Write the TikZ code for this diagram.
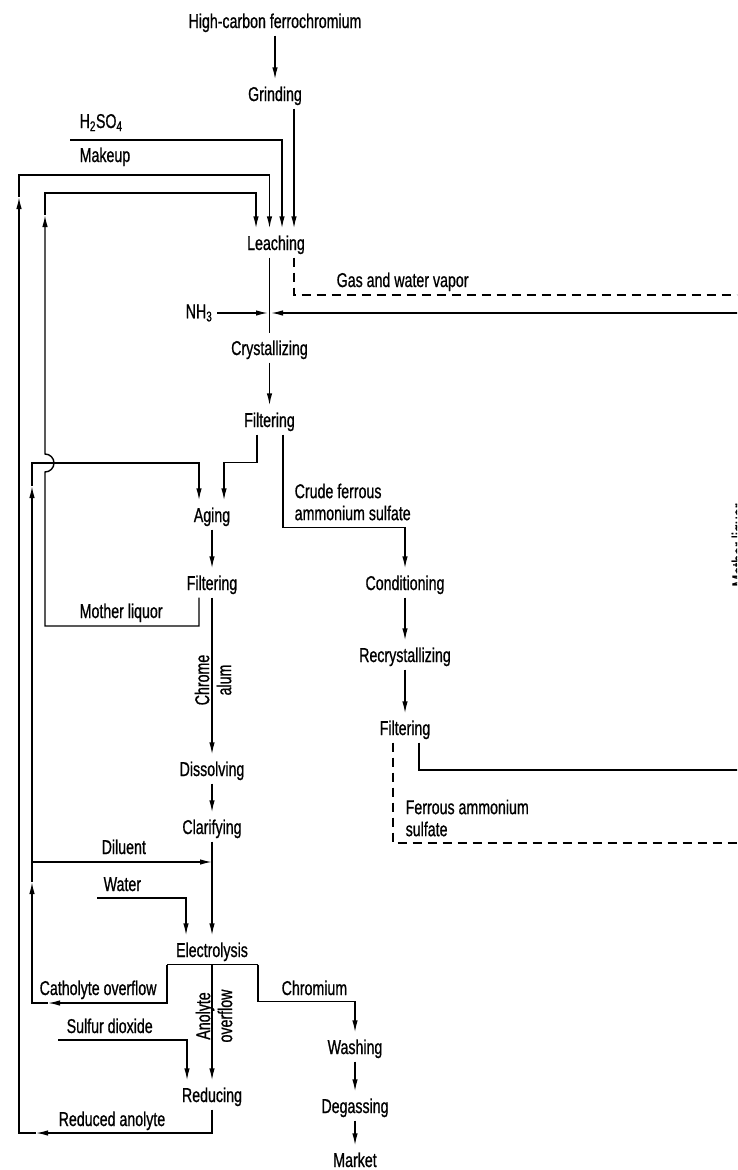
\documentclass[tikz,border=0pt]{standalone}
\usepackage{fontspec}
\setmainfont[FakeStretch=0.71, FakeBold=0.8]{Liberation Sans}
\usetikzlibrary{arrows.meta}

\begin{document}
\begin{tikzpicture}[
x=1pt, y=-1pt,
line width=1.4pt,
font=\fontsize{20}{22}\selectfont,
stage/.style={
    inner xsep=2pt,
    inner ysep=3pt,
    text height=18pt,
    text depth=4pt
},
lbl/.style={inner sep=0pt, align=left},
arrow/.style={-{Latex[length=12pt,width=5.5pt]}}
]
\useasboundingbox (0,0) rectangle (737,1170);
\clip (0,0) rectangle (737,1170);

% Process steps
\node[stage] (hc) at (275,21) {High-carbon ferrochromium};
\node[stage] (grind) at (275,94) {Grinding};
\node[stage] (leach) at (276,243) {Leaching};
\node[stage] (cryst) at (269.5,348) {Crystallizing};
\node[stage] (filt1) at (269.5,420) {Filtering};
\node[stage] (aging) at (212,515) {Aging};
\node[stage] (filt2) at (212,583) {Filtering};
\node[stage] (diss) at (212,769) {Dissolving};
\node[stage] (clar) at (212,827) {Clarifying};
\node[stage] (elec) at (212,950) {Electrolysis};
\node[stage] (redu) at (212,1095) {Reducing};
\node[stage] (wash) at (355,1047) {Washing};
\node[stage] (degas) at (355,1106) {Degassing};
\node[stage] (market) at (355,1160) {Market};
\node[stage] (cond) at (405,583) {Conditioning};
\node[stage] (recr) at (405,655) {Recrystallizing};
\node[stage] (filt3) at (405,728) {Filtering};

% Stream labels
\node[lbl, anchor=base west] (acidlbl) at (79,128) {H\textsubscript{2}SO\textsubscript{4}};
\node[lbl, anchor=base west] (makeuplbl) at (79,162) {Makeup};
\node[lbl, anchor=base west] (gaslbl) at (336,287) {Gas and water vapor};
\node[lbl, anchor=east] (nh3) at (213,313) {NH\textsubscript{3}};
\node[lbl, anchor=west] (crudelbl) at (294,502) {Crude ferrous\\ammonium sulfate};
\node[lbl, anchor=base west] (motherlbl) at (79,618) {Mother liquor};
\node[lbl, rotate=90, align=center] (alumlbl) at (213,680) {Chrome\\alum};
\node[lbl, anchor=west] (fasl) at (405,818) {Ferrous ammonium\\sulfate};
\node[lbl, rotate=90] (motherR) at (741,545) {Mother liquor};
\node[lbl, anchor=base west] (dillbl) at (101,854) {Diluent};
\node[lbl, anchor=base west] (watlbl) at (103,891) {Water};
\node[lbl, anchor=base west] (cathlbl) at (39,995) {Catholyte overflow};
\node[lbl, anchor=base west] (crlbl) at (281,995) {Chromium};
\node[lbl, rotate=90, align=center] (anolbl) at (214,1016) {Anolyte\\overflow};
\node[lbl, anchor=base west] (so2lbl) at (66,1033) {Sulfur dioxide};
\node[lbl, anchor=base west] (redlbl) at (58,1126) {Reduced anolyte};

% Free ends and corners
\coordinate (acid) at (70,140);
\coordinate (ra1) at (36,1133);
\coordinate (ra2) at (19,197);
\coordinate (ra3) at (19,175);
\coordinate (ml1) at (45,626);
\coordinate (ml2) at (45,472);
\coordinate (ml3) at (45,215);
\coordinate (ml4) at (45,193);
\coordinate (busL) at ([xshift=-45pt]elec.south);
\coordinate (busR) at ([xshift=46pt]elec.south);
\coordinate (ca1) at (48,1003);
\coordinate (ca2) at (32,882);
\coordinate (ca3) at (32,862);
\coordinate (ca4) at (32,486);
\coordinate (ca5) at (32,463);
\coordinate (dil) at (212,862);
\coordinate (wat) at (97,898);
\coordinate (so2) at (58,1040);
\coordinate (nhj) at (268,313);
\coordinate (nhR) at (271,313);
\coordinate (gasR) at (760,295);
\coordinate (mlR) at (760,770);
\coordinate (fasR) at (760,843);

% Leaching
\draw[arrow] (hc) -- (grind);
\draw[arrow] ([xshift=19pt]grind.south) -- ([xshift=18pt]leach.north);
\draw[arrow] (acid) -| ([xshift=6pt]leach.north);
\draw[arrow] (redu.south) |- (ra1);
\draw[arrow] (ra1) -| (ra2);
\draw[arrow] (ra2) -- (ra3) -| ([xshift=-6.5pt]leach.north);
\draw[arrow] ([xshift=-13pt]filt2.south) |- (ml1) -- (ml2)
    arc[start angle=-90, end angle=90, radius=9pt] -- (ml3);
\draw[arrow] (ml3) -- (ml4) -| ([xshift=-20pt]leach.north);
\draw[dashed, dash pattern=on 9pt off 6pt] ([xshift=18pt]leach.south) |- (gasR);

% Crystallizing
\draw ([xshift=-6.5pt]leach.south) -- (cryst.north);
\draw[arrow] ([xshift=4pt]nh3.east) -- (nhj);
\draw[arrow] (cryst) -- (filt1);
\draw[arrow] ([xshift=-12.5pt]filt1.south) -- ++(0,28) -| ([xshift=12pt]aging.north);
\draw[arrow] ([xshift=13.5pt]filt1.south) -- ++(0,93) -| (cond.north);

% Ferrous ammonium sulfate side
\draw[arrow] (cond) -- (recr);
\draw[arrow] (recr) -- (filt3);
\draw[arrow] ([xshift=14pt]filt3.south) |- (mlR) |- (nhR);
\draw[dashed, dash pattern=on 9pt off 6pt] ([xshift=-12pt]filt3.south) |- (fasR);

% Chrome alum to electrolysis
\draw[arrow] (aging) -- (filt2);
\draw[arrow] (filt2) -- (diss);
\draw[arrow] (diss) -- (clar);
\draw[arrow] (clar) -- (elec);
\draw[arrow] (wat) -| ([xshift=-26pt]elec.north);
\draw[arrow] (ca3) -- (dil);

% Electrolysis outputs
\draw (busL) -- (busR);
\draw[arrow] (busL) |- (ca1);
\draw[arrow] (ca1) -| (ca2);
\draw[arrow] (ca2) -- (ca4);
\draw[arrow] (ca4) -- (ca5) -| ([xshift=-13pt]aging.north);
\draw[arrow] (elec.south) -- (redu.north);
\draw[arrow] (so2) -| ([xshift=-25pt]redu.north);
\draw[arrow] (busR) -- ++(0,37) -| (wash.north);
\draw[arrow] (wash) -- (degas);
\draw[arrow] (degas) -- (market);

\end{tikzpicture}
\end{document}
